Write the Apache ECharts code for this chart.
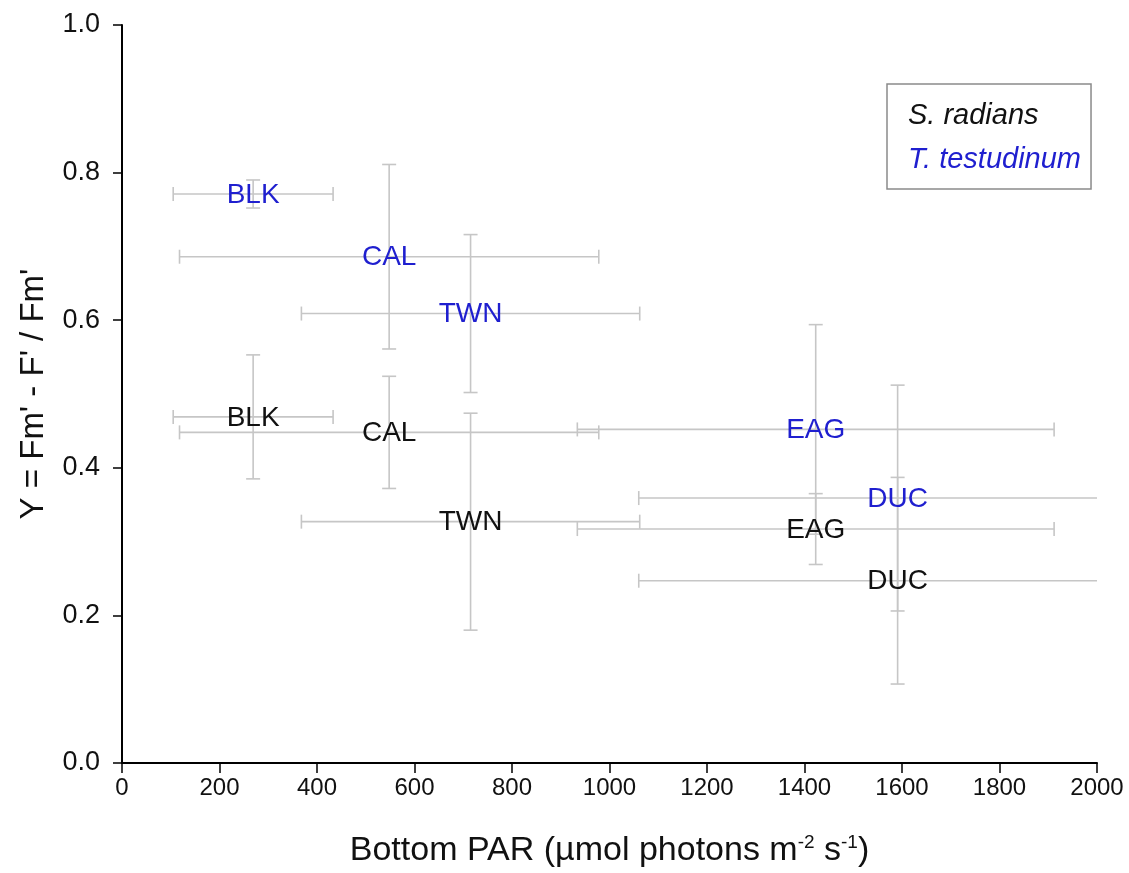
<!DOCTYPE html>
<html>
<head>
<meta charset="utf-8">
<script src="https://cdn.jsdelivr.net/npm/echarts@6/dist/echarts.min.js"></script>
<style>
html,body{margin:0;padding:0;background:#fff;}
#chart{width:1129px;height:873px;}
</style>
</head>
<body>
<div id="chart"></div>
<script>
// ---- data ----
var sites = ['BLK', 'CAL', 'TWN', 'EAG', 'DUC'];
// Bottom PAR (mean and error) per site, shared by both species
var parMean = [269, 548, 715, 1423, 1591];
var parErr  = [164, 430, 347, 489, 531];
// Thalassia testudinum (blue)
var thalY    = [0.771, 0.686, 0.609, 0.452, 0.359];
var thalYErr = [0.019, 0.125, 0.107, 0.142, 0.153];
// Syringodium radians (black)
var syrY     = [0.469, 0.448, 0.327, 0.317, 0.247];
var syrYErr  = [0.084, 0.076, 0.147, 0.048, 0.140];
// axis ticks
var xTicks = [0, 2000, 200];
var yTicks = [0, 1, 0.2];

var BLUE = '#1f1fcf';
var BAR = '#c6c6c6';
var FONT = '"Liberation Sans", Arial, Helvetica, sans-serif';

function rows(yArr, eArr) {
  return sites.map(function (s, i) { return [parMean[i], yArr[i], parErr[i], eArr[i], s]; });
}

function renderErr(params, api) {
  var x = api.value(0), y = api.value(1), xe = api.value(2), ye = api.value(3);
  var l = api.coord([x - xe, y]), r = api.coord([x + xe, y]);
  var t = api.coord([x, y + ye]), b = api.coord([x, y - ye]);
  var cap = 7;
  var st = { stroke: BAR, lineWidth: 1.6 };
  function ln(x1, y1, x2, y2) { return { type: 'line', shape: { x1: x1, y1: y1, x2: x2, y2: y2 }, style: st, silent: true }; }
  return {
    type: 'group',
    children: [
      ln(l[0], l[1], r[0], r[1]),
      ln(l[0], l[1] - cap, l[0], l[1] + cap),
      ln(r[0], r[1] - cap, r[0], r[1] + cap),
      ln(t[0], t[1], b[0], b[1]),
      ln(t[0] - cap, t[1], t[0] + cap, t[1]),
      ln(b[0] - cap, b[1], b[0] + cap, b[1])
    ]
  };
}

function renderLabel(color) {
  return function (params, api) {
    var c = api.coord([api.value(0), api.value(1)]);
    return {
      type: 'text',
      x: c[0], y: c[1] + 1,
      style: { text: sites[params.dataIndex], fill: color, fontSize: 28, fontFamily: FONT, align: 'center', verticalAlign: 'middle' }
    };
  };
}

var chart = echarts.init(document.getElementById('chart'), null, { renderer: 'canvas' });
chart.setOption({
  backgroundColor: '#fff',
  animation: false,
  textStyle: { fontFamily: FONT },
  grid: { left: 122, right: 32, top: 25, bottom: 110, outerBoundsMode: 'none' },
  legend: {
    orient: 'vertical',
    left: 887, top: 84,
    padding: [17, 10, 15, 16],
    itemWidth: 0, itemHeight: 0, itemGap: 15,
    borderColor: '#8a8a8a', borderWidth: 1.5,
    selectedMode: false,
    textStyle: { fontSize: 29, fontStyle: 'italic', fontFamily: FONT },
    data: [
      { name: 'S. radians', icon: 'rect', textStyle: { color: '#111' } },
      { name: 'T. testudinum', icon: 'rect', textStyle: { color: BLUE } }
    ]
  },
  xAxis: {
    type: 'value', min: xTicks[0], max: xTicks[1], interval: xTicks[2],
    name: 'Bottom PAR (µmol photons m{sup|-2} s{sup|-1})',
    nameLocation: 'middle', nameGap: 70,
    nameTextStyle: { fontSize: 34, color: '#111', fontFamily: FONT,
      rich: { sup: { fontSize: 19, verticalAlign: 'top', padding: [0, 0, 16, 0], color: '#111' } } },
    axisLine: { lineStyle: { color: '#000', width: 2 } },
    axisTick: { show: true, length: 10, lineStyle: { color: '#000', width: 1.5 } },
    axisLabel: { fontSize: 24, color: '#111', margin: 13, formatter: function (v) { return String(v); } },
    splitLine: { show: false }
  },
  yAxis: {
    type: 'value', min: yTicks[0], max: yTicks[1], interval: yTicks[2],
    name: "Y = Fm' - F' / Fm'",
    nameLocation: 'middle', nameGap: 72,
    nameTextStyle: { fontSize: 33, color: '#111', fontFamily: FONT },
    axisLine: { show: true, lineStyle: { color: '#000', width: 2 } },
    axisTick: { show: true, length: 9, lineStyle: { color: '#000', width: 1.5 } },
    axisLabel: { fontSize: 27, color: '#111', margin: 22, formatter: function (v) { return v.toFixed(1); } },
    splitLine: { show: false }
  },
  series: [
    { type: 'custom', name: 'errS', clip: true, silent: true, renderItem: renderErr, data: rows(syrY, syrYErr), z: 1 },
    { type: 'custom', name: 'errT', clip: true, silent: true, renderItem: renderErr, data: rows(thalY, thalYErr), z: 1 },
    { type: 'custom', name: 'S. radians', renderItem: renderLabel('#111'), data: rows(syrY, syrYErr), z: 3, itemStyle: { color: '#111' } },
    { type: 'custom', name: 'T. testudinum', renderItem: renderLabel(BLUE), data: rows(thalY, thalYErr), z: 3, itemStyle: { color: BLUE } }
  ]
});
</script>
</body>
</html>
